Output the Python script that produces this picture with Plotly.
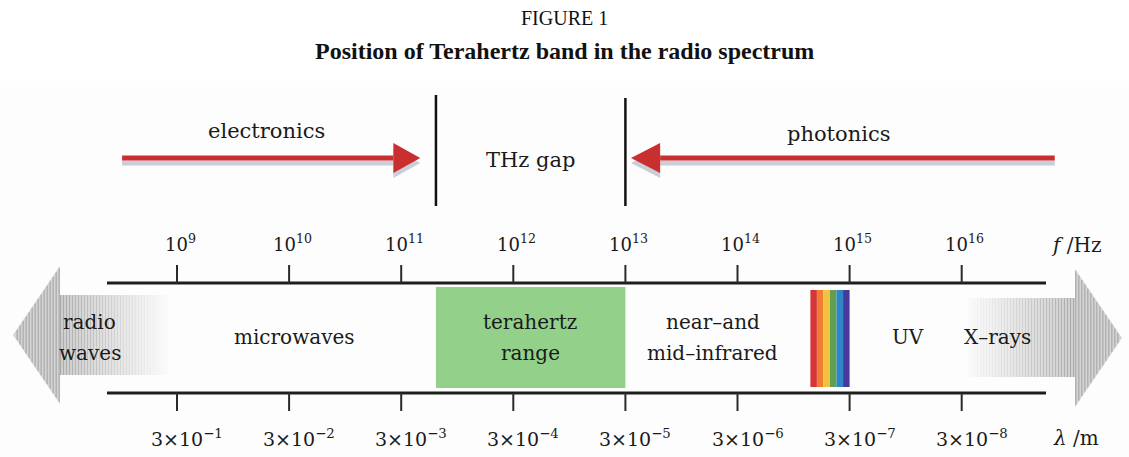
import plotly.graph_objects as go

# ---------------- data ----------------
freq_exponents = [9, 10, 11, 12, 13, 14, 15, 16]          # f = 10^n Hz
wavelength_exponents = [-1, -2, -3, -4, -5, -6, -7, -8]   # lambda = 3x10^n m
wavelength_mantissa = 3

band_names = [["radio", "waves"], ["microwaves"], ["terahertz", "range"],
              ["near–and", "mid–infrared"], ["UV"], ["X–rays"]]
band_label_logf = [8.22, 10.05, 12.15, 13.78, 15.52, 16.32]

thz_range = [11.31, 13.0]          # log10 f of the terahertz band
visible_range = [14.65, 15.0]      # log10 f of the visible strip
visible_colors = ["#d6353a", "#ee7d32", "#f2c13e", "#629f52", "#2e86c9", "#443b9c"]

radio_arrow = [7.537, 7.956, 8.911]   # tip, head base, body end (log10 f)
xray_arrow = [16.056, 17.011, 17.430]  # body start, head base, tip (log10 f)

electronics_arrow = [8.51, 10.93, 11.17]   # tail, head base, tip
photonics_arrow = [16.83, 13.31, 13.05]    # tail, head base, tip
gap_lines = [11.31, 13.0]

# ---------------- layout constants ----------------
W, H = 1129, 457
PX_PER_DECADE = 112.1
X0 = 9 - 177 / PX_PER_DECADE
X1 = X0 + W / PX_PER_DECADE
px = 1.0 / PX_PER_DECADE

SERIF = "DejaVu Serif"
TXT = "#1a1a1a"
RED = "#c92f2f"

Y_TOP, Y_BOT = 283, 393
shapes = []
ann = []

# very light background of the figure panel
shapes.append(dict(type="rect", xref="paper", yref="y", x0=0, x1=1, y0=87, y1=H,
                   fillcolor="#fdfdfd", line=dict(width=0), layer="below"))

# ---- gray arrows (radio waves / x-rays) ----
def striped_body(xa, xb, y0, y1, fade_from_a):
    n = int(round((xb - xa) / (3 * px)))
    for i in range(n):
        xs = xa + i * 3 * px
        t = i / max(n - 1, 1)
        k = (1 - t) if fade_from_a else t
        base = int(250 - 45 * k)
        stripe = int(250 - 80 * k)
        shapes.append(dict(type="rect", x0=xs, x1=xs + 1.6 * px, y0=y0, y1=y1,
                           fillcolor=f"rgb({stripe},{stripe},{stripe})", line=dict(width=0)))
        shapes.append(dict(type="rect", x0=xs + 1.6 * px, x1=xs + 3 * px, y0=y0, y1=y1,
                           fillcolor=f"rgb({base},{base},{base})", line=dict(width=0)))

def striped_head(x_base, x_tip, yc, half):
    shapes.append(dict(type="path",
                       path=f"M {x_base},{yc-half} L {x_tip},{yc} L {x_base},{yc+half} Z",
                       fillcolor="#d4d4d4", line=dict(width=0)))
    n = int(abs(x_tip - x_base) / (3 * px))
    sgn = 1 if x_tip > x_base else -1
    for i in range(n):
        xs = x_base + sgn * i * 3 * px
        xe = xs + sgn * 1.5 * px
        frac = abs(x_tip - xe) / abs(x_tip - x_base)
        h = half * frac
        shapes.append(dict(type="rect", x0=min(xs, xe), x1=max(xs, xe), y0=yc - h, y1=yc + h,
                           fillcolor="#b2b2b2", line=dict(width=0)))

striped_body(radio_arrow[1], radio_arrow[2], 295, 375, True)
striped_head(radio_arrow[1], radio_arrow[0], 335, 69)
striped_body(xray_arrow[0], xray_arrow[1], 298, 377, False)
striped_head(xray_arrow[1], xray_arrow[2], 338, 69)

# ---- terahertz band ----
shapes.append(dict(type="rect", x0=thz_range[0], x1=thz_range[1], y0=287, y1=388,
                   fillcolor="#93d08a", line=dict(width=0)))
# ---- visible strip ----
w = (visible_range[1] - visible_range[0]) / len(visible_colors)
for i, c in enumerate(visible_colors):
    shapes.append(dict(type="rect", x0=visible_range[0] + i * w, x1=visible_range[0] + (i + 1) * w,
                       y0=290, y1=387, fillcolor=c, line=dict(width=0)))

# ---- axis lines and ticks ----
line_x0 = X0 + 107 * px
line_x1 = X0 + 1046 * px
for yy in (Y_TOP, Y_BOT):
    shapes.append(dict(type="line", x0=line_x0, x1=line_x1, y0=yy, y1=yy,
                       line=dict(color="#1e1e1e", width=3)))
for e in freq_exponents:
    shapes.append(dict(type="line", x0=e, x1=e, y0=265, y1=Y_TOP, line=dict(color="#2a2a2a", width=2)))
    shapes.append(dict(type="line", x0=e, x1=e, y0=Y_BOT, y1=411, line=dict(color="#2a2a2a", width=2)))
    ann.append(dict(x=e, y=243, text=f"10<sup>{e}</sup>", xshift=3,
                    font=dict(family=SERIF, size=18, color=TXT)))
for e, we in zip(freq_exponents, wavelength_exponents):
    ann.append(dict(x=e, y=438, text=f"{wavelength_mantissa}×10<sup>{str(we).replace('-', '−')}</sup>",
                    xshift=10, font=dict(family=SERIF, size=19, color=TXT)))
ann.append(dict(x=X0 + 1076 * px, y=245, text="<i>f</i> /Hz", font=dict(family=SERIF, size=20, color=TXT)))
ann.append(dict(x=X0 + 1076 * px, y=438, text="<i>λ</i> /m", font=dict(family=SERIF, size=20, color=TXT)))

# ---- band labels (one annotation per line, wider line spacing) ----
for lines, xpos in zip(band_names, band_label_logf):
    n = len(lines)
    for j, t in enumerate(lines):
        yy = 337 + (j - (n - 1) / 2) * 31
        ann.append(dict(x=xpos, y=yy, text=t, font=dict(family=SERIF, size=20, color=TXT)))

# ---- THz gap lines ----
for g, (ya, yb) in zip(gap_lines, [(95, 206), (98, 206)]):
    shapes.append(dict(type="line", x0=g, x1=g, y0=ya, y1=yb, line=dict(color="#111111", width=2.5)))

# ---- red arrows with soft shadow ----
def red_arrow(tail, base, tip, yc):
    for dy, col, wd in [(5, "rgba(110,115,150,0.35)", 5), (0, RED, 5)]:
        shapes.append(dict(type="line", x0=tail, x1=base, y0=yc + dy, y1=yc + dy, line=dict(color=col, width=wd)))
        shapes.append(dict(type="path",
                           path=f"M {base},{yc-15+dy} L {tip},{yc+dy} L {base},{yc+15+dy} Z",
                           fillcolor=col, line=dict(width=0)))

red_arrow(*electronics_arrow, 158)
red_arrow(*photonics_arrow, 158)

ann.append(dict(x=X0 + 266 * px, y=131, text="electronics", font=dict(family=SERIF, size=21, color=TXT)))
ann.append(dict(x=X0 + 838 * px, y=134, text="photonics", font=dict(family=SERIF, size=21, color=TXT)))
ann.append(dict(x=X0 + 530 * px, y=160, text="THz gap", font=dict(family=SERIF, size=21, color=TXT)))

# ---- titles ----
ann.append(dict(xref="paper", x=0.5, y=18, text="FIGURE 1",
                font=dict(family="Liberation Serif", size=20, color="#111")))
ann.append(dict(xref="paper", x=0.5, y=51, text="<b>Position of Terahertz band in the radio spectrum</b>",
                font=dict(family="Liberation Serif", size=24, color="#111")))

for a in ann:
    a.setdefault("xref", "x")
    a["yref"] = "y"
    a["showarrow"] = False
    a.setdefault("xanchor", "center")
    a["yanchor"] = "middle"
for s in shapes:
    s.setdefault("xref", "x")
    s.setdefault("yref", "y")

fig = go.Figure()
fig.add_trace(go.Scatter(x=[X0, X1], y=[0, H], mode="markers", marker=dict(opacity=0),
                         hoverinfo="skip", showlegend=False))
fig.update_layout(
    width=W, height=H, margin=dict(l=0, r=0, t=0, b=0),
    paper_bgcolor="white", plot_bgcolor="white",
    xaxis=dict(range=[X0, X1], visible=False, fixedrange=True),
    yaxis=dict(range=[H, 0], visible=False, fixedrange=True),
    shapes=shapes, annotations=ann, showlegend=False,
)
fig.write_html("out.html", config={"displayModeBar": False},
               post_script="document.body.style.margin='0';document.body.style.overflow='hidden';")
